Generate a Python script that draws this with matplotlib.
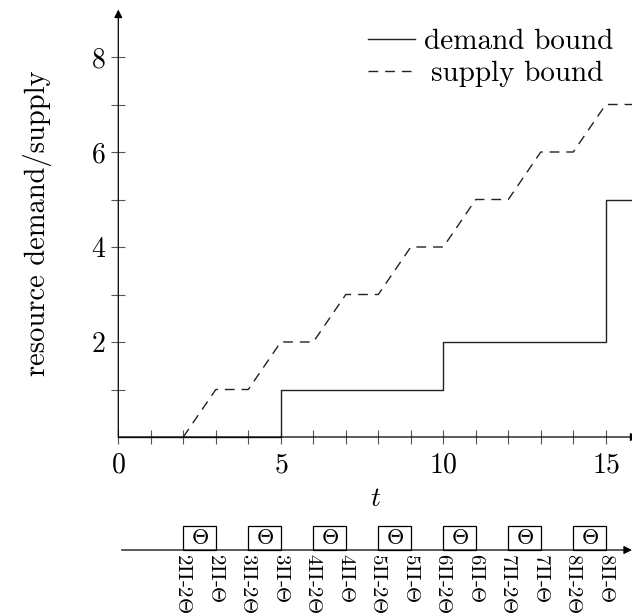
import matplotlib
matplotlib.use("Agg")
import matplotlib.pyplot as plt
from matplotlib.patches import Rectangle

plt.rcParams['font.family'] = ['cmr10', 'DejaVu Serif']
plt.rcParams['mathtext.fontset'] = 'cm'
plt.rcParams['axes.formatter.use_mathtext'] = True

# demand bound (step function, value holds until next time)
demand_t = [0, 5, 10, 15, 16]
demand_v = [0, 1, 2, 5, 5]

# supply bound (linear supply bound function)
supply_t = [2, 3, 4, 5, 6, 7, 8, 9, 10, 11, 12, 13, 14, 15, 16]
supply_v = [0, 1, 1, 2, 2, 3, 3, 4, 4, 5, 5, 6, 6, 7, 7]

# resource periods on the timeline: box from k*Pi-2*Theta to k*Pi-Theta
period = 2
theta = 1
ks = [2, 3, 4, 5, 6, 7, 8]

x_major = [0, 5, 10, 15]
y_major = [2, 4, 6, 8]

W, H = 632, 614
fig = plt.figure(figsize=(W / 100, H / 100), dpi=100)

x0_px, y0_px = 118.3, 437
ux, uy = 32.5, 47.5
xmax, ymax = (W - x0_px) / ux, 9.0
ax = fig.add_axes([x0_px / W, (H - y0_px) / H, (W - x0_px) / W, ymax * uy / H])
ax.set_xlim(0, xmax)
ax.set_ylim(0, ymax)

axc = '#555555'
for s in ax.spines.values():
    s.set_visible(False)
ax.annotate('', xy=(0, ymax), xytext=(0, 0), xycoords='data',
            arrowprops=dict(arrowstyle='-|>', color='black', lw=0.9,
                            mutation_scale=12, shrinkA=0, shrinkB=0),
            annotation_clip=False)
ax.annotate('', xy=(xmax + 0.2, 0), xytext=(0, 0), xycoords='data',
            arrowprops=dict(arrowstyle='-|>', color='black', lw=0.9,
                            mutation_scale=12, shrinkA=0, shrinkB=0),
            annotation_clip=False)

ax.step(demand_t, demand_v, where='post', color='#222222', lw=1.0,
        label='demand bound', clip_on=False)
ax.plot(supply_t, supply_v, color='#222222', lw=1.0, linestyle=(0, (7, 5)),
        label='supply bound', clip_on=False)

ax.set_xticks(x_major)
ax.set_xticks(range(0, 16), minor=True)
ax.set_yticks(y_major)
ax.set_yticks(range(1, 9), minor=True)
ax.tick_params(which='both', direction='inout', length=10, width=0.8,
               color=axc, labelsize=20, pad=4)
ax.tick_params(axis='x', which='both', pad=6)

ax.set_xlabel('$t$', fontsize=20)
ax.xaxis.set_label_coords(0.5, -(486 - y0_px) / (ymax * uy))
ax.xaxis.label.set_va('top')
ax.set_ylabel('resource demand/supply', fontsize=20.5)
ax.yaxis.set_label_coords(-(x0_px - 52) / (W - x0_px), 0.5)

leg = ax.legend(loc='upper right', bbox_to_anchor=(0.963, 0.955), frameon=False,
                fontsize=21, borderpad=0, borderaxespad=0, labelspacing=0.2,
                handlelength=1.6, handletextpad=0.3)
# center the shorter entry like the original
leg.get_texts()[1].set_position((7, 0))

# timeline below
tl = fig.add_axes([x0_px / W, 0, (W - x0_px) / W, 114 / H])
tl.set_xlim(0, xmax)
tl.set_ylim(0, 114)
tl.axis('off')
tl.annotate('', xy=(xmax, 64), xytext=(0.1, 64),
            arrowprops=dict(arrowstyle='-|>', color='black', lw=0.9,
                            mutation_scale=12, shrinkA=0, shrinkB=0),
            annotation_clip=False)
for k in ks:
    a = k * period - 2 * theta
    b = k * period - theta
    tl.add_patch(Rectangle((a, 64), b - a, 24, fill=False, ec='black', lw=0.9,
                           clip_on=False))
    tl.text((a + b) / 2, 76, r'$\Theta$', ha='center', va='center', fontsize=16)
    tl.text(a, 61, r'$%d\Pi$-$2\Theta$' % k, rotation=270, ha='center',
            va='top', fontsize=15)
    tl.text(b, 61, r'$%d\Pi$-$\Theta$' % k, rotation=270, ha='center',
            va='top', fontsize=15)

fig.savefig('out.png', dpi=100)
